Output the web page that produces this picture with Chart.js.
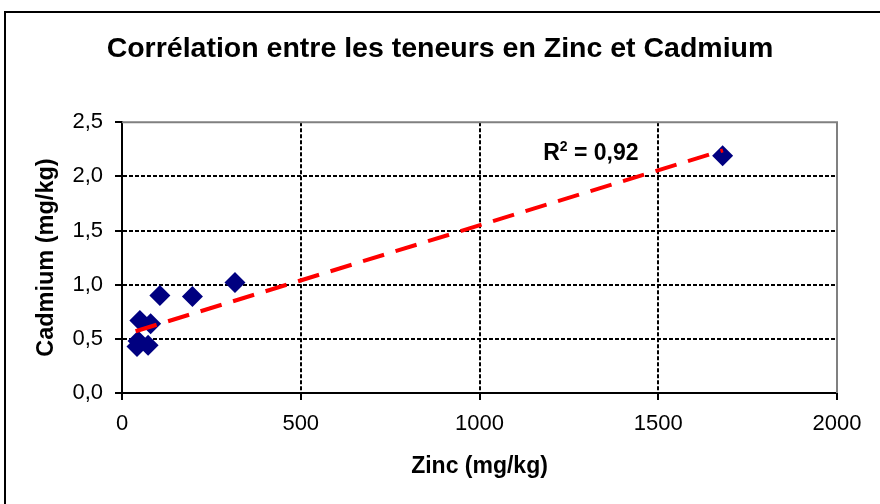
<!DOCTYPE html>
<html>
<head>
<meta charset="utf-8">
<style>
  html, body { margin: 0; padding: 0; background: #fff; overflow: hidden; }
  canvas { display: block; }
</style>
<script src="https://cdn.jsdelivr.net/npm/chart.js@4.4.1/dist/chart.umd.min.js"></script>
</head>
<body>
<canvas id="c" width="880" height="504"></canvas>
<script>
// ---- Data ----
const zincValues    = [106, 197, 316, 50, 80, 45, 42, 73, 1680];
const cadmiumValues = [0.90, 0.89, 1.02, 0.67, 0.64, 0.48, 0.43, 0.44, 2.19];
const trendZinc     = [38, 1681];
const trendCadmium  = [0.57, 2.24];
const xTickLabels   = ['0', '500', '1000', '1500', '2000'];
const yTickLabels   = ['0,0', '0,5', '1,0', '1,5', '2,0', '2,5'];
const chartTitle    = 'Corrélation entre les teneurs en Zinc et Cadmium';
const xTitle        = 'Zinc (mg/kg)';
const yTitle        = 'Cadmium (mg/kg)';
const r2Text        = { main: 'R', sup: '2', rest: ' = 0,92' };
const r2Anchor      = { x: 1178, y: 2.15 };

const FONT = '"Liberation Sans", Arial, sans-serif';

const scatterPoints = zincValues.map((z, i) => ({ x: z, y: cadmiumValues[i] }));
const trendPoints = trendZinc.map((z, i) => ({ x: z, y: trendCadmium[i] }));

const framePlugin = {
  id: 'frame',
  beforeDraw(chart) {
    const ctx = chart.ctx;
    ctx.save();
    ctx.fillStyle = '#ffffff';
    ctx.fillRect(0, 0, chart.width, chart.height);
    ctx.strokeStyle = '#000000';
    ctx.lineWidth = 2;
    ctx.strokeRect(5, 12, 1000, 1000);
    ctx.restore();
  },
  beforeDatasetsDraw(chart) {
    const { ctx, chartArea: a } = chart;
    ctx.save();
    ctx.strokeStyle = '#808080';
    ctx.lineWidth = 2;
    ctx.beginPath();
    ctx.moveTo(a.left, a.top);
    ctx.lineTo(a.right, a.top);
    ctx.lineTo(a.right, a.bottom);
    ctx.stroke();
    ctx.restore();
  },
  afterDraw(chart) {
    const ctx = chart.ctx;
    const x = chart.scales.x.getPixelForValue(r2Anchor.x);
    const y = chart.scales.y.getPixelForValue(r2Anchor.y);
    ctx.save();
    ctx.fillStyle = '#000';
    ctx.textBaseline = 'alphabetic';
    ctx.textAlign = 'left';
    ctx.font = 'bold 23px ' + FONT;
    ctx.fillText(r2Text.main, x, y);
    let w = ctx.measureText(r2Text.main).width;
    ctx.font = 'bold 14px ' + FONT;
    ctx.fillText(r2Text.sup, x + w, y - 9);
    w += ctx.measureText(r2Text.sup).width;
    ctx.font = 'bold 23px ' + FONT;
    ctx.fillText(r2Text.rest, x + w, y);
    ctx.restore();
  }
};

new Chart(document.getElementById('c'), {
  type: 'scatter',
  data: {
    datasets: [
      {
        label: 'Tendance',
        data: trendPoints,
        showLine: true,
        borderColor: '#ff0000',
        borderWidth: 4,
        borderDash: [22, 12],
        pointRadius: 0,
        fill: false,
        order: 0
      },
      {
        label: 'Cadmium',
        data: scatterPoints,
        pointStyle: 'rectRot',
        pointRadius: 10.5,
        pointBackgroundColor: '#000080',
        pointBorderColor: '#000080',
        pointBorderWidth: 0,
        order: 1
      }
    ]
  },
  options: {
    responsive: false,
    animation: false,
    layout: { padding: 0 },
    plugins: {
      legend: { display: false },
      tooltip: { enabled: false },
      title: {
        display: true,
        text: chartTitle,
        color: '#000',
        font: { family: FONT, size: 28.5, weight: 'bold' },
        padding: { top: 32, bottom: 56 }
      }
    },
    scales: {
      x: {
        type: 'linear',
        min: 0, max: 2000,
        afterFit(s) { s.height = 111; },
        afterBuildTicks(s) { s.ticks = xTickLabels.map(t => ({ value: Number(t) })); },
        ticks: {
          color: '#000',
          font: { family: FONT, size: 22 },
          padding: 11,
          maxRotation: 0,
          callback: (v, i) => xTickLabels[i]
        },
        grid: {
          color: (c) => (c.index === xTickLabels.length - 1 ? 'rgba(0,0,0,0)' : '#000'),
          lineWidth: 2,
          tickColor: '#000',
          tickWidth: 2,
          tickLength: 7,
          tickBorderDash: []
        },
        border: { display: true, color: '#000', width: 2, dash: [4, 2] },
        title: {
          display: true,
          text: xTitle,
          color: '#000',
          font: { family: FONT, size: 23, weight: 'bold' },
          padding: { top: 0, bottom: 24 }
        }
      },
      y: {
        type: 'linear',
        min: 0, max: 2.5,
        afterFit(s) { s.width = 122; },
        afterBuildTicks(s) { s.ticks = yTickLabels.map(t => ({ value: Number(t.replace(',', '.')) })); },
        ticks: {
          color: '#000',
          font: { family: FONT, size: 22 },
          padding: 12,
          callback: (v, i) => yTickLabels[i]
        },
        grid: {
          color: (c) => (c.index === yTickLabels.length - 1 ? 'rgba(0,0,0,0)' : '#000'),
          lineWidth: 2,
          tickColor: '#000',
          tickWidth: 2,
          tickLength: 7,
          tickBorderDash: []
        },
        border: { display: true, color: '#000', width: 2, dash: [4, 2] },
        title: {
          display: true,
          text: yTitle,
          color: '#000',
          font: { family: FONT, size: 23.5, weight: 'bold' },
          padding: { top: 32, bottom: 0 }
        }
      },
      spacer: {
        type: 'linear',
        position: 'right',
        display: true,
        min: 0, max: 1,
        afterFit(s) { s.width = 43; },
        ticks: { display: false },
        grid: { display: false, drawTicks: false },
        border: { display: false },
        title: { display: false }
      }
    }
  },
  plugins: [framePlugin]
});
</script>
</body>
</html>
